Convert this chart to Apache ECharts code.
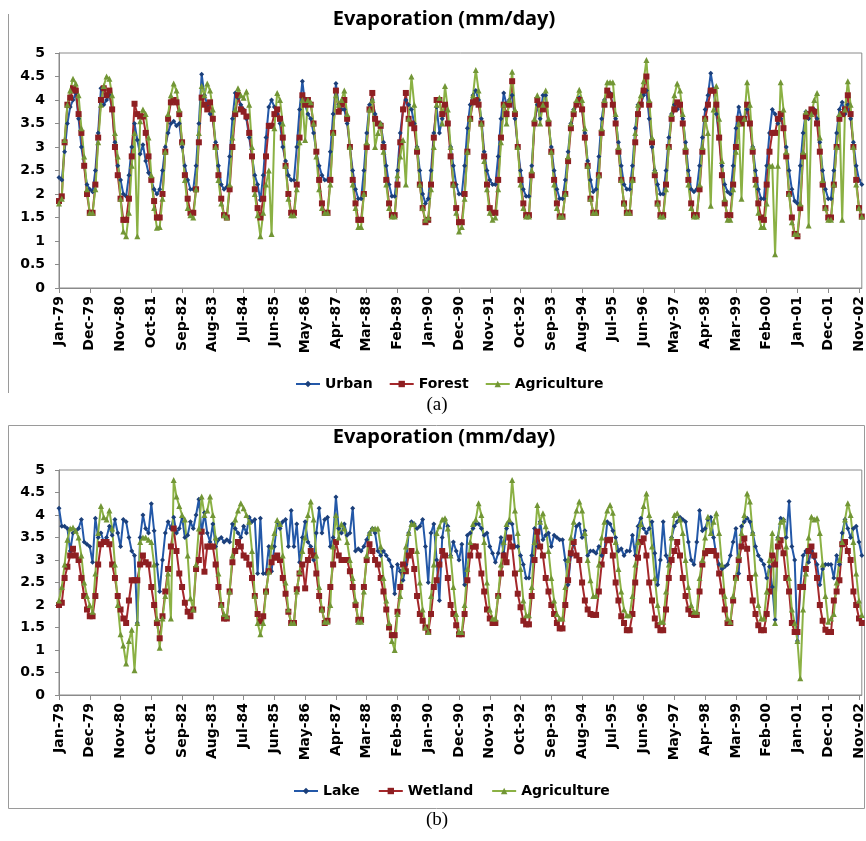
<!DOCTYPE html>
<html>
<head>
<meta charset="utf-8">
<script src="https://cdn.jsdelivr.net/npm/echarts@6/dist/echarts.min.js"></script>
<style>
  html, body { margin: 0; padding: 0; background: #fff; }
  #chart { width: 866px; height: 841px; }
</style>
</head>
<body>
<div id="chart"></div>
<script>
// monthly categories Jan-79 .. Dec-02
const MONTHS = ['Jan','Feb','Mar','Apr','May','Jun','Jul','Aug','Sep','Oct','Nov','Dec'];
const YEARS = [1979,1980,1981,1982,1983,1984,1985,1986,1987,1988,1989,1990,
               1991,1992,1993,1994,1995,1996,1997,1998,1999,2000,2001,2002];
const categories = [];
YEARS.forEach((y) => MONTHS.forEach((m) => categories.push(m + '-' + String(y).slice(2))));

const yTicks = [0, 0.5, 1, 1.5, 2, 2.5, 3, 3.5, 4, 4.5, 5];

// panel (a)
const urbanA = [
  2.35,2.3,2.9,3.5,3.85,4.0,4.15,3.6,3.0,2.6,2.2,2.1,
  2.05,2.5,3.3,4.25,3.9,4.0,4.1,3.8,3.1,2.6,2.3,2.0,
  1.95,2.4,3.0,3.5,3.15,2.85,3.05,2.7,2.45,2.3,2.1,2.0,
  2.1,2.5,3.0,3.3,3.5,3.55,3.45,3.5,3.0,2.6,2.3,2.1,
  2.1,2.6,3.5,4.55,4.1,3.9,3.7,3.6,3.1,2.6,2.2,2.1,
  2.15,2.8,3.6,4.15,4.05,3.9,3.8,3.6,3.2,2.8,2.4,2.2,
  1.87,2.4,3.2,3.85,4.0,3.85,3.7,3.5,3.0,2.7,2.4,2.3,
  2.3,3.0,3.8,4.4,3.9,3.7,3.6,3.3,2.9,2.6,2.4,2.3,
  2.3,2.9,3.7,4.35,3.9,3.8,3.8,3.5,3.0,2.5,2.1,1.9,
  1.9,2.5,3.3,3.9,4.0,3.7,3.5,3.5,3.1,2.6,2.2,1.95,
  1.95,2.5,3.3,3.8,4.0,3.9,3.8,3.5,3.0,2.5,2.0,1.8,
  1.9,2.5,3.3,3.85,3.3,3.6,3.9,3.5,3.0,2.6,2.2,2.0,
  2.0,2.6,3.4,3.9,4.1,4.2,4.0,3.6,2.9,2.5,2.3,2.2,
  2.2,2.8,3.6,4.15,3.9,4.0,4.1,3.6,3.0,2.5,2.1,1.95,
  1.95,2.6,3.5,3.9,3.6,4.1,4.1,3.5,3.0,2.5,2.1,1.9,
  1.9,2.3,2.9,3.5,3.8,3.9,4.05,3.8,3.3,2.7,2.3,2.05,
  2.1,2.8,3.6,4.0,4.2,4.15,3.9,3.6,3.1,2.6,2.2,2.1,
  2.1,2.6,3.4,3.9,3.9,4.1,4.2,3.6,3.0,2.5,2.2,2.0,
  2.0,2.5,3.2,3.7,3.9,3.8,3.9,3.6,3.1,2.5,2.1,2.05,
  2.1,2.6,3.2,3.8,4.1,4.57,4.2,3.7,3.2,2.6,2.2,2.05,
  2.0,2.6,3.4,3.85,3.6,3.6,3.8,3.5,3.0,2.5,2.1,1.9,
  1.9,2.6,3.3,3.8,3.7,3.5,3.6,3.4,3.0,2.5,2.1,1.85,
  1.8,2.6,3.3,3.75,3.6,3.7,3.8,3.6,3.1,2.5,2.1,1.9,
  1.9,2.5,3.3,3.8,3.95,3.7,3.9,3.6,3.1,2.6,2.3,2.2
];
const forestA = [
  1.85,1.95,3.1,3.9,4.05,4.25,4.2,3.7,3.3,2.6,2.0,1.6,
  1.6,2.2,3.2,4.0,4.25,4.1,4.2,3.8,3.0,2.4,1.9,1.45,
  1.45,1.9,2.8,3.92,3.7,3.65,3.65,3.3,2.8,2.3,1.85,1.5,
  1.5,2.0,2.9,3.6,3.95,4.0,3.95,3.7,3.1,2.4,1.9,1.6,
  1.6,2.1,3.1,4.05,3.9,3.8,3.95,3.6,3.0,2.4,1.9,1.55,
  1.5,2.1,3.0,3.7,4.1,3.8,3.75,3.65,3.3,2.8,2.1,1.7,
  1.5,1.9,2.8,3.45,3.45,3.7,3.8,3.6,3.2,2.6,2.0,1.6,
  1.6,2.2,3.2,4.1,3.9,4.0,3.9,3.5,2.9,2.3,1.8,1.6,
  1.6,2.3,3.3,4.2,3.75,3.9,4.0,3.6,3.0,2.3,1.8,1.45,
  1.45,2.0,3.0,3.8,4.15,3.6,3.5,3.45,3.0,2.3,1.8,1.55,
  1.55,2.2,3.1,3.8,4.15,3.6,3.5,3.4,2.9,2.2,1.7,1.4,
  1.45,2.2,3.2,4.0,4.0,3.7,3.9,3.5,2.8,2.2,1.7,1.4,
  1.4,2.0,2.9,3.6,3.95,4.0,3.9,3.5,2.8,2.2,1.7,1.6,
  1.6,2.3,3.2,3.9,3.7,3.9,4.4,3.7,3.0,2.3,1.8,1.55,
  1.55,2.4,3.5,4.0,3.9,3.8,3.9,3.5,2.9,2.3,1.8,1.52,
  1.52,2.0,2.7,3.4,3.7,3.9,4.0,3.8,3.2,2.6,1.9,1.6,
  1.6,2.4,3.3,3.9,4.2,4.1,3.9,3.5,2.9,2.3,1.8,1.6,
  1.6,2.3,3.1,3.7,3.9,4.2,4.5,3.9,3.1,2.4,1.8,1.55,
  1.55,2.2,3.0,3.6,3.8,3.95,3.9,3.5,2.9,2.3,1.8,1.55,
  1.55,2.1,2.9,3.6,3.9,4.2,4.2,3.9,3.2,2.4,1.8,1.55,
  1.55,2.2,3.0,3.6,3.5,3.6,3.9,3.5,2.9,2.3,1.8,1.5,
  1.45,2.2,2.9,3.3,3.3,3.6,3.7,3.4,2.8,2.0,1.5,1.15,
  1.1,1.7,2.8,3.65,3.7,3.8,3.75,3.5,2.9,2.2,1.7,1.5,
  1.5,2.2,3.0,3.6,3.7,3.8,4.1,3.7,3.0,2.3,1.7,1.52
];
const agriA = [
  1.8,1.9,3.15,3.9,4.2,4.45,4.35,4.1,3.4,2.8,2.1,1.6,
  1.6,2.1,3.1,3.9,4.3,4.5,4.45,4.1,3.3,2.8,1.9,1.2,
  1.1,1.6,2.6,3.3,1.1,3.55,3.8,3.7,3.2,2.4,1.7,1.28,
  1.3,1.9,2.9,3.7,4.1,4.35,4.2,3.8,3.1,2.3,1.7,1.55,
  1.5,2.1,3.3,4.3,4.1,4.35,4.2,3.8,3.0,2.3,1.8,1.55,
  1.5,2.2,3.2,3.8,4.25,4.1,4.05,4.18,3.9,3.0,2.0,1.55,
  1.1,1.6,2.2,2.5,1.15,3.4,4.15,4.0,3.5,2.6,1.9,1.55,
  1.55,2.1,3.1,4.0,3.15,4.0,3.95,3.5,2.8,2.1,1.7,1.6,
  1.6,2.2,3.3,4.1,3.9,4.0,4.2,3.7,3.0,2.2,1.7,1.3,
  1.3,2.0,3.1,3.8,4.0,3.0,3.3,3.5,2.9,2.2,1.7,1.52,
  1.52,2.4,2.8,3.15,2.2,3.6,4.5,3.9,3.0,2.2,1.7,1.45,
  1.5,2.1,3.0,3.9,4.05,3.5,4.3,3.8,3.0,2.2,1.6,1.2,
  1.3,1.9,2.9,3.6,4.1,4.64,4.2,3.5,2.7,2.1,1.6,1.45,
  1.5,2.1,3.1,3.9,3.5,4.0,4.6,3.8,3.0,2.2,1.7,1.52,
  1.52,2.5,3.6,4.1,3.5,3.9,4.2,3.6,2.9,2.2,1.7,1.52,
  1.52,2.0,2.8,3.5,3.8,4.0,4.22,4.0,3.4,2.6,1.9,1.6,
  1.6,2.4,3.4,4.0,4.38,4.38,4.38,3.7,3.0,2.3,1.8,1.6,
  1.6,2.3,3.3,3.9,4.1,4.4,4.85,4.0,3.2,2.5,1.8,1.52,
  1.52,2.1,3.0,3.7,4.1,4.35,4.2,3.7,3.0,2.2,1.7,1.52,
  1.52,2.2,3.0,3.6,3.3,1.75,3.8,4.3,3.6,2.7,1.9,1.45,
  1.45,2.1,2.9,3.5,1.9,3.6,4.38,3.9,3.0,2.2,1.6,1.3,
  1.3,1.8,2.6,2.6,0.72,2.6,4.38,3.8,2.9,2.0,1.4,1.15,
  1.15,1.8,2.9,3.75,1.33,3.7,4.0,4.15,3.2,2.3,1.7,1.45,
  1.45,2.2,3.0,3.7,1.45,3.8,4.4,3.9,3.0,2.2,1.7,1.52
];

// panel (b)
const lakeB = [
  4.15,3.75,3.75,3.7,3.2,3.6,3.65,3.7,3.9,3.4,3.35,3.3,
  2.95,3.93,3.5,3.6,3.4,3.5,3.75,3.55,3.9,3.6,3.3,3.9,
  3.85,3.5,3.2,3.1,1.6,3.5,4.0,3.7,3.6,4.25,3.65,2.9,
  2.3,3.0,3.6,3.85,3.7,3.95,3.6,3.7,3.95,3.5,3.55,3.85,
  3.7,4.0,4.35,3.6,4.05,3.6,3.4,3.8,3.3,3.45,3.5,3.4,
  3.45,3.4,3.8,3.7,3.6,3.5,3.75,3.6,3.95,3.85,3.9,2.7,
  3.93,2.7,2.7,3.3,2.75,3.3,3.85,3.7,3.85,3.9,3.3,4.1,
  3.3,3.8,2.95,3.5,3.85,3.4,3.3,3.0,3.6,4.15,3.6,3.9,
  3.95,3.3,3.5,4.4,3.7,3.6,3.8,3.55,3.6,4.15,3.2,3.25,
  3.2,3.3,3.45,3.6,3.7,3.6,3.2,3.1,3.2,3.1,3.0,2.85,
  2.25,2.9,2.75,2.55,2.9,3.6,3.85,3.8,3.7,3.75,3.9,3.3,
  2.5,3.6,3.8,3.0,2.1,3.5,3.9,3.75,3.1,3.4,3.2,3.0,
  3.35,2.45,3.55,3.6,3.7,3.8,3.8,3.7,3.55,3.6,3.3,3.15,
  2.95,3.15,3.5,3.15,3.7,3.85,3.8,3.3,3.3,3.1,2.9,2.6,
  2.6,3.1,3.7,3.3,3.85,3.45,3.55,3.6,3.3,3.55,3.5,3.45,
  3.45,3.0,2.45,3.1,3.35,3.75,3.8,3.5,3.65,3.1,3.2,3.2,
  3.15,3.3,3.1,3.2,3.85,3.8,3.65,3.5,3.2,3.25,3.1,3.2,
  3.2,3.55,3.1,3.75,3.93,3.7,3.6,3.7,3.85,3.15,2.45,3.0,
  3.85,3.1,2.95,3.5,3.75,3.85,3.95,3.9,3.85,3.4,3.0,2.9,
  3.4,4.1,3.65,3.7,3.9,3.95,3.5,3.1,2.9,2.8,2.85,2.9,
  3.1,3.4,3.7,2.7,3.75,3.85,3.93,3.85,3.6,3.3,3.1,3.0,
  2.9,2.6,2.85,2.4,1.67,3.5,3.93,3.9,3.5,4.3,3.3,3.0,
  1.2,2.4,3.1,3.2,2.95,3.2,3.05,2.9,2.45,2.8,2.9,2.9,
  2.9,2.6,3.1,2.9,3.6,3.9,3.7,3.5,3.7,3.75,3.4,3.1
];
const wetlandB = [
  2.0,2.05,2.6,2.85,3.1,3.25,3.1,3.0,2.6,2.2,1.9,1.75,
  1.75,2.2,2.9,3.35,3.4,3.4,3.35,2.9,2.6,2.2,1.9,1.7,
  1.6,2.1,2.55,2.55,2.55,2.9,3.1,2.95,2.9,2.4,2.0,1.6,
  1.26,1.75,2.3,2.8,3.3,3.7,3.2,2.7,2.4,2.05,1.85,1.75,
  1.9,2.8,3.0,3.63,2.74,3.3,3.3,3.3,2.9,2.4,2.0,1.7,
  1.7,2.3,2.95,3.2,3.4,3.3,3.1,3.05,2.9,2.6,2.2,1.8,
  1.63,1.75,2.3,2.75,2.95,3.05,3.1,3.0,2.6,2.25,1.85,1.6,
  1.6,2.35,2.7,2.9,2.37,3.0,3.2,3.1,2.7,2.2,1.9,1.6,
  1.65,2.4,2.9,3.4,3.1,3.0,3.0,3.0,2.75,2.4,2.0,1.67,
  1.67,2.4,3.0,3.35,3.2,3.0,2.9,2.6,2.3,1.9,1.5,1.33,
  1.33,1.85,2.4,2.9,2.75,3.1,3.2,2.8,2.2,1.8,1.65,1.5,
  1.4,1.8,2.4,2.55,2.9,3.2,3.1,2.6,2.0,1.8,1.55,1.35,
  1.35,1.8,2.55,3.1,3.3,3.3,3.1,2.7,2.3,1.9,1.7,1.6,
  1.6,2.2,2.7,3.1,2.95,3.5,3.3,2.7,2.25,1.95,1.65,1.57,
  1.57,2.2,3.0,3.63,3.3,3.1,2.6,2.3,2.0,1.8,1.6,1.48,
  1.48,2.0,2.55,3.15,3.4,3.1,3.0,2.5,2.1,1.9,1.8,1.78,
  1.78,2.3,2.9,3.2,3.44,3.45,3.1,2.5,2.1,1.75,1.6,1.44,
  1.44,1.8,2.5,3.05,3.4,3.48,3.1,2.5,2.1,1.7,1.55,1.44,
  1.44,1.9,2.6,3.0,3.2,3.4,3.1,2.6,2.2,1.9,1.8,1.78,
  1.78,2.3,2.9,3.15,3.2,3.2,3.2,3.1,2.7,2.3,1.9,1.6,
  1.6,2.1,2.6,3.0,3.3,3.48,3.25,2.6,2.1,1.8,1.55,1.44,
  1.44,1.8,2.3,3.1,2.9,3.3,3.44,3.15,2.6,2.3,1.6,1.4,
  1.4,2.4,2.4,2.8,3.2,3.3,3.1,2.6,2.0,1.65,1.45,1.4,
  1.4,2.1,2.3,2.55,3.35,3.4,3.2,3.0,2.3,2.0,1.7,1.6
];
const agriB = [
  2.1,2.4,2.9,3.45,3.7,3.72,3.65,3.5,3.1,2.5,2.2,2.0,
  1.85,2.7,3.6,4.2,3.95,3.9,4.1,3.7,2.9,2.0,1.35,1.1,
  0.7,1.2,1.45,0.55,1.6,3.4,3.5,3.5,3.45,3.4,2.9,1.7,
  1.05,1.7,2.2,2.7,1.7,4.78,4.41,4.2,4.0,3.9,3.1,2.15,
  1.9,2.9,3.7,4.41,4.0,4.1,4.41,4.0,3.5,2.7,2.0,1.8,
  1.75,2.3,3.1,3.9,4.1,4.26,4.15,4.0,3.85,3.2,2.2,1.6,
  1.35,1.6,2.3,2.74,3.3,3.6,3.89,3.8,3.1,2.5,1.9,1.6,
  1.6,2.3,2.74,3.2,3.5,4.0,4.3,3.9,3.1,2.4,1.9,1.63,
  1.63,2.0,3.3,4.0,3.5,3.8,3.7,3.4,3.0,2.6,2.1,1.63,
  1.63,2.3,3.1,3.6,3.7,3.7,3.7,3.3,2.6,2.1,1.6,1.2,
  1.0,1.8,2.2,2.8,3.3,3.6,3.8,3.8,3.2,2.5,1.9,1.5,
  1.4,2.2,2.9,3.6,3.75,3.9,3.93,3.7,3.1,2.4,1.8,1.4,
  1.4,2.0,2.8,3.4,3.8,3.9,4.26,4.0,3.4,2.5,1.9,1.7,
  1.7,2.2,2.9,3.4,3.8,3.9,4.78,4.1,3.6,2.8,2.1,1.77,
  1.77,2.4,3.4,4.22,3.85,4.04,3.75,3.2,2.6,2.1,1.8,1.7,
  1.7,2.4,3.0,3.5,3.85,4.1,4.3,4.1,3.6,3.0,2.55,2.2,
  2.2,2.9,3.5,3.85,4.1,4.22,4.05,3.4,2.8,2.3,1.9,1.77,
  1.77,2.2,2.9,3.4,3.8,4.2,4.48,4.0,3.3,2.6,2.0,1.63,
  1.63,2.3,2.9,3.5,4.0,4.04,3.9,3.6,3.0,2.4,2.0,1.85,
  1.85,2.6,3.0,3.5,3.96,3.6,3.85,4.04,3.6,2.9,2.2,1.7,
  1.63,2.2,2.6,3.1,3.6,4.0,4.48,4.3,3.6,2.7,2.0,1.7,
  1.7,2.3,3.0,3.6,1.6,3.5,3.85,3.9,3.3,2.6,1.9,1.6,
  1.2,0.37,1.9,2.7,3.5,3.96,3.9,3.93,3.6,2.9,2.2,1.63,
  1.7,1.8,2.5,3.0,3.4,3.9,4.26,4.0,3.4,2.7,2.1,1.78
];

const BLUE = '#2358a8', BLUE_MK = '#1b3f7a';
const RED = '#a4282b', RED_MK = '#8e1f22';
const GREEN = '#8bb144', GREEN_MK = '#729636';
const AXIS = '#8a8a8a';
const FONT = 'DejaVu Sans';

function xAxis(gridIndex) {
  return {
    type: 'category', gridIndex, data: categories, boundaryGap: false,
    axisLine: { lineStyle: { color: AXIS } },
    axisTick: { interval: 10, length: 5, lineStyle: { color: AXIS } },
    axisLabel: { interval: 10, rotate: 90, color: '#000', fontFamily: FONT, fontWeight: 'bold', fontSize: 14, margin: 8 },
    splitLine: { show: false },
  };
}
function yAxis(gridIndex) {
  return {
    type: 'value', gridIndex, min: yTicks[0], max: yTicks[yTicks.length - 1], interval: 0.5,
    axisLine: { show: true, lineStyle: { color: AXIS } },
    axisTick: { show: true, length: 4, lineStyle: { color: AXIS } },
    axisLabel: { color: '#000', fontFamily: FONT, fontWeight: 'bold', fontSize: 14, margin: 14 },
    splitLine: { show: false },
  };
}
function series(name, data, idx, symbol, size, color, mk) {
  return {
    name, type: 'line', data, xAxisIndex: idx, yAxisIndex: idx,
    symbol, symbolSize: size, showSymbol: true, showAllSymbol: true,
    lineStyle: { width: 2, color },
    itemStyle: { color: mk },
    emphasis: { disabled: true },
  };
}
const legendText = { color: '#000', fontFamily: FONT, fontWeight: 'bold', fontSize: 14 };

const chart = echarts.init(document.getElementById('chart'), null, { renderer: 'canvas' });
chart.setOption({
  backgroundColor: '#fff',
  animation: false,
  grid: [
    { left: 59, top: 53, width: 805, height: 235, show: true, borderColor: AXIS, borderWidth: 1, backgroundColor: 'transparent' },
    { left: 59, top: 470, width: 805, height: 225, show: true, borderColor: AXIS, borderWidth: 1, backgroundColor: 'transparent' },
  ],
  xAxis: [xAxis(0), xAxis(1)],
  yAxis: [yAxis(0), yAxis(1)],
  legend: [
    { data: ['Urban', 'Forest', 'Agriculture'], left: 290, top: 372, itemWidth: 24, itemHeight: 8, itemGap: 16, textStyle: legendText },
    { data: ['Lake', 'Wetland', 'Agriculture'], left: 288, top: 779, itemWidth: 24, itemHeight: 8, itemGap: 18, textStyle: legendText },
  ],
  graphic: [
    { type: 'line', shape: { x1: 8.5, y1: 14, x2: 8.5, y2: 393 }, style: { stroke: '#9a9a9a', lineWidth: 1 } },
    { type: 'rect', shape: { x: 8.5, y: 425.5, width: 856, height: 383 }, style: { fill: 'none', stroke: '#9a9a9a', lineWidth: 1 } },
    { type: 'text', x: 444, y: 9, style: { text: 'Evaporation (mm/day)', textAlign: 'center', font: 'bold 20px "Noto Sans"', fill: '#000' } },
    { type: 'text', x: 444, y: 427, style: { text: 'Evaporation (mm/day)', textAlign: 'center', font: 'bold 20px "Noto Sans"', fill: '#000' } },
    { type: 'text', x: 437, y: 396, style: { text: '(a)', textAlign: 'center', font: '19px "Liberation Serif"', fill: '#000' } },
    { type: 'text', x: 437, y: 811, style: { text: '(b)', textAlign: 'center', font: '19px "Liberation Serif"', fill: '#000' } },
  ],
  series: [
    series('Urban', urbanA, 0, 'diamond', 5, BLUE, BLUE_MK),
    series('Forest', forestA, 0, 'rect', 6, RED, RED_MK),
    series('Agriculture', agriA, 0, 'triangle', 6, GREEN, GREEN_MK),
    series('Lake', lakeB, 1, 'diamond', 5, BLUE, BLUE_MK),
    series('Wetland', wetlandB, 1, 'rect', 6, RED, RED_MK),
    series('Agriculture', agriB, 1, 'triangle', 6, GREEN, GREEN_MK),
  ],
});
</script>
</body>
</html>
